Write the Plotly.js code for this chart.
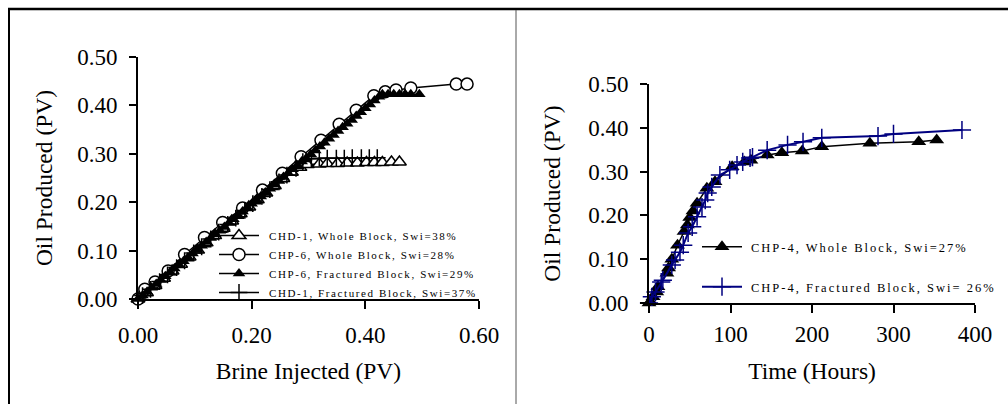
<!DOCTYPE html>
<html>
<head>
<meta charset="utf-8">
<script src="https://cdn.plot.ly/plotly-3.0.1.min.js"></script>
<style>
  html, body { margin: 0; padding: 0; background: #fff; }
  #chart { width: 1008px; height: 404px; }
  #chart text.legendtext { letter-spacing: 1.6px; transform: translateX(5px); }
  #chart text.legend2text, #chart text.legend3text { letter-spacing: 2px; transform: translateX(4px); }
  #chart g.scrollbox { clip-path: none !important; }
</style>
</head>
<body>
<div id="chart"></div>
<script>
// ---------- Left chart: Oil Produced vs Brine Injected ----------
const chd1WholeName = "CHD-1, Whole Block, Swi=38%";
const chd1WholeX = [0, 0.015, 0.03, 0.045, 0.06, 0.075, 0.09, 0.105, 0.12, 0.135, 0.15, 0.165, 0.18, 0.195, 0.21, 0.225, 0.24, 0.255, 0.27, 0.285, 0.298, 0.319, 0.333, 0.351, 0.368, 0.386, 0.402, 0.416, 0.43, 0.446, 0.46];
const chd1WholeY = [0, 0.013, 0.028, 0.043, 0.058, 0.072, 0.087, 0.101, 0.116, 0.131, 0.146, 0.161, 0.176, 0.19, 0.205, 0.219, 0.234, 0.249, 0.262, 0.272, 0.278, 0.279, 0.28, 0.28, 0.281, 0.281, 0.282, 0.282, 0.282, 0.283, 0.283];

const chp6WholeName = "CHP-6, Whole Block, Swi=28%";
const chp6WholeX = [0, 0.012, 0.03, 0.053, 0.082, 0.117, 0.149, 0.184, 0.219, 0.254, 0.287, 0.322, 0.354, 0.384, 0.415, 0.435, 0.454, 0.48, 0.56, 0.579];
const chp6WholeY = [0, 0.02, 0.035, 0.058, 0.092, 0.127, 0.158, 0.188, 0.225, 0.26, 0.294, 0.328, 0.361, 0.39, 0.42, 0.428, 0.432, 0.436, 0.444, 0.444];

const chp6FracName = "CHP-6, Fractured Block, Swi=29%";
const chp6FracX = [0, 0.008, 0.016, 0.024, 0.032, 0.04, 0.048, 0.056, 0.064, 0.072, 0.08, 0.088, 0.096, 0.104, 0.112, 0.12, 0.128, 0.136, 0.144, 0.152, 0.16, 0.168, 0.176, 0.184, 0.192, 0.2, 0.208, 0.216, 0.224, 0.232, 0.24, 0.248, 0.256, 0.264, 0.272, 0.28, 0.288, 0.296, 0.304, 0.312, 0.32, 0.328, 0.336, 0.344, 0.352, 0.36, 0.368, 0.376, 0.384, 0.392, 0.4, 0.408, 0.416, 0.424, 0.43, 0.44, 0.45, 0.46, 0.47, 0.48, 0.495];
const chp6FracY = [0, 0.007, 0.015, 0.023, 0.031, 0.039, 0.047, 0.055, 0.063, 0.071, 0.078, 0.086, 0.094, 0.102, 0.11, 0.118, 0.126, 0.134, 0.141, 0.149, 0.157, 0.165, 0.173, 0.181, 0.189, 0.197, 0.205, 0.212, 0.22, 0.228, 0.236, 0.244, 0.252, 0.26, 0.268, 0.276, 0.284, 0.291, 0.299, 0.307, 0.315, 0.323, 0.331, 0.339, 0.347, 0.355, 0.362, 0.37, 0.378, 0.386, 0.394, 0.402, 0.41, 0.418, 0.423, 0.423, 0.423, 0.423, 0.423, 0.423, 0.423];

const chd1FracName = "CHD-1, Fractured Block, Swi=37%";
const chd1FracX = [0, 0.008, 0.022, 0.038, 0.052, 0.068, 0.082, 0.098, 0.112, 0.128, 0.142, 0.158, 0.172, 0.188, 0.202, 0.218, 0.232, 0.248, 0.262, 0.278, 0.29, 0.305, 0.319, 0.333, 0.349, 0.363, 0.377, 0.393, 0.407, 0.421];
const chd1FracY = [0, 0.007, 0.02, 0.036, 0.05, 0.065, 0.079, 0.095, 0.108, 0.124, 0.138, 0.154, 0.167, 0.183, 0.197, 0.212, 0.226, 0.242, 0.256, 0.27, 0.284, 0.29, 0.291, 0.291, 0.291, 0.291, 0.292, 0.292, 0.292, 0.292];

const leftXTicks = [0, 0.2, 0.4, 0.6];
const leftYTicks = [0, 0.1, 0.2, 0.3, 0.4, 0.5];
const leftXTitle = "Brine Injected (PV)";
const leftYTitle = "Oil Produced (PV)";

// ---------- Right chart: Oil Produced vs Time ----------
const chp4WholeName = "CHP-4, Whole Block, Swi=27%";
const chp4WholeT = [0, 2, 5, 9.5, 11, 22, 24, 28, 35, 43, 47, 50, 54, 59, 71, 81, 102, 117, 125, 145, 163, 188, 212, 271, 331, 353];
const chp4WholeY = [0, 0.003, 0.014, 0.025, 0.037, 0.068, 0.08, 0.1, 0.132, 0.163, 0.178, 0.195, 0.21, 0.228, 0.262, 0.277, 0.311, 0.322, 0.326, 0.338, 0.343, 0.347, 0.357, 0.365, 0.368, 0.372];

const chp4FracName = "CHP-4, Fractured Block, Swi= 26%";
const chp4FracT = [0, 3.5, 8, 15, 17, 28, 32, 38, 42, 48, 53, 59, 65, 69, 72, 77, 87, 99, 108, 115, 124, 127, 145, 170, 189, 212, 281, 300, 384];
const chp4FracY = [0, 0.014, 0.025, 0.048, 0.052, 0.087, 0.098, 0.116, 0.132, 0.16, 0.174, 0.197, 0.219, 0.235, 0.251, 0.265, 0.292, 0.304, 0.315, 0.322, 0.331, 0.333, 0.349, 0.361, 0.368, 0.377, 0.381, 0.386, 0.395];

const rightXTicks = [0, 100, 200, 300, 400];
const rightYTicks = [0, 0.1, 0.2, 0.3, 0.4, 0.5];
const rightXTitle = "Time (Hours)";
const rightYTitle = "Oil Produced (PV)";

// ---------- styling ----------
const W = 1008, H = 404;
const FONT = "Liberation Serif, Times New Roman, serif";
const px2x = p => p / W;
const px2y = p => 1 - p / H;

const traces = [
  { x: chd1WholeX, y: chd1WholeY, name: chd1WholeName, xaxis: 'x', yaxis: 'y', legend: 'legend',
    mode: 'lines+markers', cliponaxis: false,
    line: { color: '#000', width: 1.5 },
    marker: { symbol: 'triangle-up', size: 12, color: '#fff', line: { color: '#000', width: 1.5 } } },
  { x: chp6WholeX, y: chp6WholeY, name: chp6WholeName, xaxis: 'x', yaxis: 'y', legend: 'legend',
    mode: 'lines+markers', cliponaxis: false,
    line: { color: '#000', width: 1.5 },
    marker: { symbol: 'circle', size: 12, color: '#fff', line: { color: '#000', width: 1.5 } } },
  { x: chp6FracX, y: chp6FracY, name: chp6FracName, xaxis: 'x', yaxis: 'y', legend: 'legend',
    mode: 'lines+markers', cliponaxis: false,
    line: { color: '#000', width: 1.5 },
    marker: { symbol: 'triangle-up', size: 11, color: '#000', line: { color: '#000', width: 0 } } },
  { x: chd1FracX, y: chd1FracY, name: chd1FracName, xaxis: 'x', yaxis: 'y', legend: 'legend',
    mode: 'lines+markers', cliponaxis: false,
    line: { color: '#000', width: 1.5 },
    marker: { symbol: 'cross-thin', size: 12, color: '#000', line: { color: '#000', width: 1.5 } } },
  { x: chp4WholeT, y: chp4WholeY, name: chp4WholeName, xaxis: 'x2', yaxis: 'y2', legend: 'legend2',
    mode: 'lines+markers', cliponaxis: false,
    line: { color: '#000', width: 1.5 },
    marker: { symbol: 'triangle-up', size: 13, color: '#000', line: { color: '#000', width: 0 } } },
  { x: chp4FracT, y: chp4FracY, name: chp4FracName, xaxis: 'x2', yaxis: 'y2', legend: 'legend3',
    mode: 'lines+markers', cliponaxis: false,
    line: { color: '#000080', width: 2 },
    marker: { symbol: 'cross-thin', size: 13, color: '#000080', line: { color: '#000080', width: 1.5 } } }
];

const tickFont = { family: FONT, size: 23, color: '#000' };
const titleFont = { family: FONT, size: 23.5, color: '#000' };

function mainX(domain, range, tickvals, fmt, title, standoff, lblStand) {
  return { domain, range, tickvals, tickformat: fmt,
    showline: true, linecolor: '#000', linewidth: 2, ticks: 'outside', ticklen: 8, tickwidth: 2, tickcolor: '#000',
    showgrid: false, zeroline: false, tickfont: tickFont, ticklabelstandoff: lblStand,
    title: { text: title, font: titleFont, standoff } };
}
function mainY(domain, range, tickvals, title, standoff, lblStand) {
  return { domain, range, tickvals, tickformat: '.2f',
    showline: true, linecolor: '#000', linewidth: 2, ticks: 'outside', ticklen: 7, tickwidth: 2, tickcolor: '#000',
    showgrid: false, zeroline: false, tickfont: tickFont, ticklabelstandoff: lblStand,
    title: { text: title, font: titleFont, standoff } };
}
function innerTicks(over, anchor, range, tickvals, side, len) {
  return { overlaying: over, anchor, range, tickvals, side, ticks: 'inside', ticklen: len, tickwidth: 2, tickcolor: '#000',
    showticklabels: false, showline: false, showgrid: false, zeroline: false };
}

const lxDom = [px2x(138), px2x(479)];
const lyDom = [px2y(299), px2y(57)];
const rxDom = [px2x(649), px2x(975)];
const ryDom = [px2y(303), px2y(84)];

const xa = mainX(lxDom, [0, 0.6], leftXTicks, '.2f', leftXTitle, 16, 6); xa.anchor = 'y';
const ya = mainY(lyDom, [0, 0.5], leftYTicks, leftYTitle, 18, 7); ya.anchor = 'x';
const xa2 = mainX(rxDom, [0, 400], rightXTicks, 'd', rightXTitle, 17, 1); xa2.anchor = 'y2';
const ya2 = mainY(ryDom, [0, 0.5], rightYTicks, rightYTitle, 21, 7); ya2.anchor = 'x2';

const legendFontL = { family: FONT, size: 11, color: '#000' };
const legendFontR = { family: FONT, size: 12.5, color: '#000' };

const layout = {
  width: W, height: H,
  margin: { l: 0, r: 0, t: 0, b: 0 },
  paper_bgcolor: '#fff', plot_bgcolor: 'rgba(0,0,0,0)',
  showlegend: true,
  xaxis: xa, yaxis: ya,
  xaxis2: xa2, yaxis2: ya2,
  xaxis3: innerTicks('x', 'y', [0, 0.6], leftXTicks, 'bottom', 7),
  yaxis3: innerTicks('y', 'x', [0, 0.5], leftYTicks, 'left', 9),
  xaxis4: innerTicks('x2', 'y2', [0, 400], rightXTicks, 'bottom', 7),
  yaxis4: innerTicks('y2', 'x2', [0, 0.5], rightYTicks, 'left', 8),
  legend: { x: px2x(214), y: px2y(221), xanchor: 'left', yanchor: 'top', bgcolor: 'rgba(0,0,0,0)',
    font: legendFontL, itemwidth: 40, tracegroupgap: 0 },
  legend2: { x: px2x(697), y: px2y(232), xanchor: 'left', yanchor: 'top', bgcolor: 'rgba(0,0,0,0)',
    font: legendFontR, itemwidth: 40 },
  legend3: { x: px2x(697), y: px2y(272), xanchor: 'left', yanchor: 'top', bgcolor: 'rgba(0,0,0,0)',
    font: legendFontR, itemwidth: 40 },
  shapes: [
    { type: 'line', xref: 'paper', yref: 'paper', x0: px2x(8), x1: 1, y0: px2y(9), y1: px2y(9), line: { color: '#000', width: 2.5 } },
    { type: 'line', xref: 'paper', yref: 'paper', x0: px2x(9), x1: px2x(9), y0: px2y(8), y1: 0, line: { color: '#000', width: 2 } },
    { type: 'line', xref: 'paper', yref: 'paper', x0: px2x(516), x1: px2x(516), y0: px2y(10), y1: 0, line: { color: '#555', width: 1 } }
  ]
};

Plotly.newPlot('chart', traces, layout, { staticPlot: true, displayModeBar: false });
</script>
</body>
</html>
